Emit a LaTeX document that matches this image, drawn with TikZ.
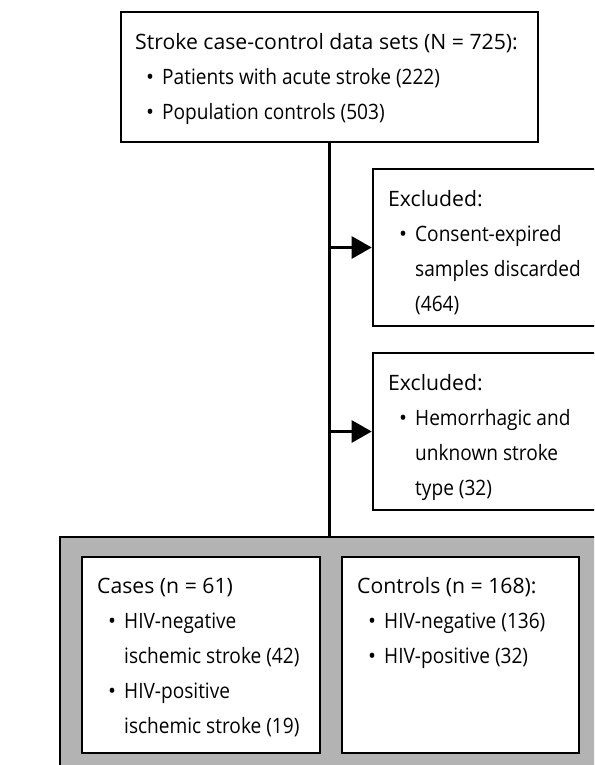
\documentclass[tikz,border=0pt]{standalone}
\usepackage{fontspec}
\usepackage{graphicx}
\setmainfont{Open Sans}
\usetikzlibrary{arrows.meta}
\definecolor{greyfill}{RGB}{179,179,179}
\newcommand{\itemtext}[1]{\scalebox{0.9}[1]{#1}}
\newcommand{\titleline}[1]{\hbox{#1}}
\newcommand{\bulletline}[1]{\hbox{\hspace*{11pt}\makebox[16pt][l]{\textbullet}\itemtext{#1}}}
\newcommand{\contline}[1]{\hbox{\hspace*{27pt}\itemtext{#1}}}
\newcommand{\textblock}[1]{\vtop{\baselineskip=35pt\lineskiplimit=-1000pt\lineskip=0pt #1}}
\tikzset{
  box/.style={draw=black, line width=2.6pt, fill=white, inner sep=0pt, rectangle},
  greybox/.style={draw=black, line width=2.6pt, fill=greyfill, inner sep=0pt, rectangle},
  txt/.style={inner sep=0pt, anchor=base west, font=\fontsize{21.2}{35}\selectfont},
  conn/.style={draw=black, line width=2.6pt},
  arr/.style={conn, -{Triangle[length=20pt,width=22pt]}}
}
\begin{document}
\begin{tikzpicture}[x=1pt,y=-1pt]
\useasboundingbox (0,0) rectangle (594,765);
\clip (0,0) rectangle (594,765);
% boxes
\node[box, minimum width=417pt, minimum height=130pt] (top) at (329.5,77) {};
\node[box, minimum width=235pt, minimum height=157pt] (ex1) at (490.5,247.5) {};
\node[box, minimum width=235pt, minimum height=157pt] (ex2) at (490.5,431.5) {};
\node[greybox, minimum width=541pt, minimum height=237pt] (grey) at (330.5,655.5) {};
\node[box, minimum width=238pt, minimum height=196pt] (cases) at (201,655) {};
\node[box, minimum width=237pt, minimum height=196pt] (controls) at (460.5,655) {};
% connectors
\draw[conn] (top.south) -- (top.south |- grey.north);
\coordinate (j1) at (top.south |- ex1.west);
\coordinate (j2) at (top.south |- ex2.west);
\draw[arr] (j1) -- (ex1.west);
\draw[arr] (j2) -- (ex2.west);
% texts
\node[txt] (toptxt) at (135,50) {\textblock{%
  \titleline{Stroke case-control data sets (N = 725):}
  \bulletline{Patients with acute stroke (222)}
  \bulletline{Population controls (503)}}};
\node[txt] (ex1txt) at (388,206) {\textblock{%
  \titleline{Excluded:}
  \bulletline{Consent-expired}
  \contline{samples discarded}
  \contline{(464)}}};
\node[txt] (ex2txt) at (388,390) {\textblock{%
  \titleline{Excluded:}
  \bulletline{Hemorrhagic and}
  \contline{unknown stroke}
  \contline{type (32)}}};
\node[txt] (casestxt) at (97,593) {\textblock{%
  \titleline{Cases (n = 61)}
  \bulletline{HIV-negative}
  \contline{ischemic stroke (42)}
  \bulletline{HIV-positive}
  \contline{ischemic stroke (19)}}};
\node[txt] (controlstxt) at (357,593) {\textblock{%
  \titleline{Controls (n = 168):}
  \bulletline{HIV-negative (136)}
  \bulletline{HIV-positive (32)}}};
\end{tikzpicture}
\end{document}
